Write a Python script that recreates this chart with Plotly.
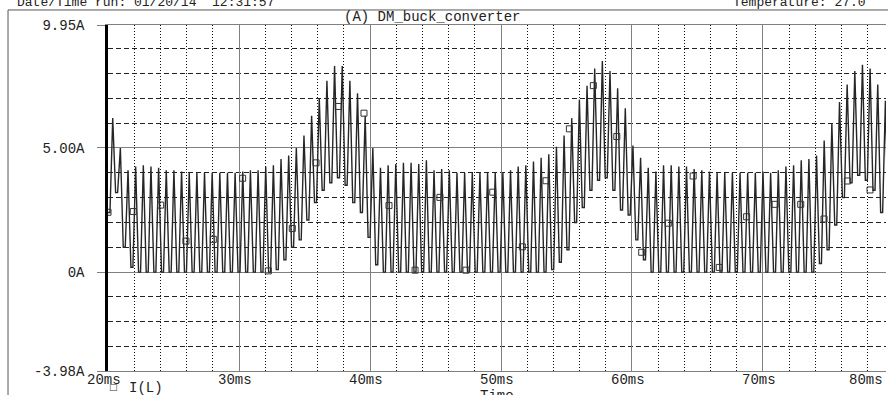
import plotly.graph_objects as go

# ---------------- data ----------------
first_peak_ms = 20.36        # time of first current peak
switch_period_ms = 0.584     # apparent switching period
start_current_A = 2.4        # I(L) at 20 ms

# peak current of each switching cycle (A)
peak_A = [
    6.2, 5.0, 4.1, 4.25, 4.3, 4.25, 4.2, 4.1, 4.1, 4.05,
    4.0, 4.0, 4.0, 4.0, 4.0, 4.0, 4.0, 4.05, 4.1, 4.1,
    4.25, 4.3, 4.55, 4.7, 5.0, 5.5, 6.3, 7.0, 7.7, 8.3,
    8.3, 7.7, 7.2, 6.3, 5.0, 4.2, 4.3, 4.35, 4.4, 4.4,
    4.35, 4.5, 4.1, 4.15, 4.1, 4.0, 4.0, 4.0, 4.0, 4.0,
    4.0, 4.0, 4.1, 4.25, 4.3, 4.45, 4.6, 4.75, 5.05, 5.5,
    6.2, 6.95, 7.5, 8.2, 8.5, 8.1, 7.4, 6.6, 5.1, 4.6,
    4.2, 4.05, 4.3, 4.3, 4.25, 4.25, 4.15, 4.1, 4.05, 4.0,
    4.0, 4.0, 4.0, 4.0, 4.0, 4.05, 4.0, 4.1, 4.25, 4.3,
    4.5, 4.55, 4.7, 5.3, 6.0, 6.85, 7.55, 8.1, 8.35, 8.2,
    7.55, 6.9, 6.0,
]

# valley current after each peak (A)
valley_A = [
    3.2, 1.0, 0.2, 0, 0, 0, 0, 0, 0, 0,
    0, 0, 0, 0, 0, 0, 0, 0, 0, 0,
    0, 0.1, 0.5, 1.0, 1.3, 2.1, 2.8, 3.3, 3.6, 3.8,
    3.5, 2.8, 2.4, 1.4, 0.3, 0, 0, 0, 0, 0,
    0, 0, 0, 0, 0, 0, 0, 0, 0, 0,
    0, 0, 0, 0, 0, 0, 0, 0.1, 0.4, 0.9,
    2.0, 2.6, 3.3, 3.7, 3.8, 3.3, 2.5, 2.3, 1.3, 0.5,
    0, 0, 0, 0, 0, 0, 0, 0, 0, 0,
    0, 0, 0, 0, 0, 0, 0, 0, 0, 0,
    0, 0, 0.35, 0.9, 1.9, 3.0, 3.6, 3.9, 3.7, 3.3,
    2.4, 1.6, 1.0,
]

# PSpice trace-marker squares
marker_time_ms = [20.0, 21.93, 24.02, 25.95, 28.04, 30.28, 32.24, 34.07, 35.88, 37.58,
                  39.54, 41.45, 43.44, 45.34, 47.33, 49.37, 51.63, 53.44, 55.22, 57.05,
                  58.84, 60.74, 62.77, 64.67, 66.66, 68.75, 70.92, 72.88, 74.66, 76.44,
                  78.17]
marker_A = [2.41, 2.44, 2.70, 1.25, 1.32, 3.78, 0.05, 1.76, 4.40, 6.67,
            6.40, 2.68, 0.08, 3.01, 0.08, 3.22, 1.02, 3.68, 5.77, 7.51,
            5.46, 0.80, 1.97, 3.87, 0.19, 2.23, 2.73, 2.73, 2.14, 3.67,
            3.31]

y_tick_vals = [-3.98, 0, 5, 9.95]
y_tick_text = ["-3.98A", "0A", "5.00A", "9.95A"]
x_tick_vals = [20, 30, 40, 50, 60, 70]
x_tick_text = ["20ms", "30ms", "40ms", "50ms", "60ms", "70ms"]
last_tick_text = "80ms"
x_range = [20, 79.39]
y_range = [-3.98, 9.95]

title_text = "(A) DM_buck_converter"
header_left = "Date/Time run: 01/20/14  12:31:57"
header_right = "Temperature: 27.0"
trace_name = "I(L)"
x_title = "Time"

# ---------------- build the waveform ----------------
rise = 0.36 * switch_period_ms
fall = 0.38 * switch_period_ms
t, y = [x_range[0]], [start_current_A]
prev = start_current_A
for i, (p, v) in enumerate(zip(peak_A, valley_A)):
    tp = first_peak_ms + i * switch_period_ms
    t += [tp - rise, tp, tp + fall]
    y += [prev, p, v]
    prev = v

FONT = "Liberation Mono, DejaVu Sans Mono, monospace"

fig = go.Figure()
fig.add_trace(go.Scatter(x=t, y=y, mode="lines",
                         line=dict(color="#262626", width=1.4),
                         hoverinfo="skip", name=trace_name))
fig.add_trace(go.Scatter(x=marker_time_ms, y=marker_A, mode="markers",
                         marker=dict(symbol="square-open", size=6,
                                     color="#333", line=dict(width=1)),
                         name=trace_name))

fig.update_layout(
    width=888, height=395,
    margin=dict(l=108, r=2, t=25, b=24),
    paper_bgcolor="white", plot_bgcolor="white",
    showlegend=False,
    font=dict(family=FONT, size=14, color="#222"),
)

fig.update_xaxes(
    range=x_range, tickvals=x_tick_vals, showticklabels=False,
    showgrid=True, gridcolor="#808080", gridwidth=1,
    minor=dict(dtick=2, tick0=20, showgrid=True, griddash="1px,2px",
               gridcolor="#111", gridwidth=1),
    showline=True, linecolor="#808080", linewidth=1, mirror=True,
    ticks="", zeroline=False,
)
fig.update_yaxes(
    range=y_range, tickvals=y_tick_vals, ticktext=y_tick_text,
    showgrid=True, gridcolor="#808080", gridwidth=1,
    minor=dict(dtick=1, tick0=0, showgrid=True, griddash="5px,3px",
               gridcolor="#222", gridwidth=1),
    showline=True, linecolor="black", linewidth=2.5, mirror=False,
    ticks="outside", ticklen=8, tickcolor="#808080", tickwidth=1,
    zeroline=False, ticklabelstandoff=10,
)

ann_font = dict(family=FONT, size=14, color="#222")
# x tick labels (PSpice style, slightly left of the gridline)
for xv, xt in zip(x_tick_vals, x_tick_text):
    fig.add_annotation(text=xt, xref="x", yref="paper", x=xv, y=0,
                       xanchor="center", yanchor="middle", xshift=-4, yshift=-9,
                       showarrow=False, font=ann_font)
fig.add_annotation(text=last_tick_text, xref="paper", yref="paper", x=1, y=0,
                   xanchor="right", yanchor="middle", xshift=-1, yshift=-9,
                   showarrow=False, font=ann_font)
fig.add_annotation(text=title_text, xref="paper", yref="paper", x=0.4165, y=1,
                   yanchor="middle", yshift=8, showarrow=False, font=ann_font)
fig.add_annotation(text="\u25a1", xref="paper", yref="paper", x=0, y=0,
                   xanchor="center", yanchor="middle", xshift=5, yshift=-16,
                   showarrow=False,
                   font=dict(family="DejaVu Sans", size=9, color="#333"))
fig.add_annotation(text=trace_name, xref="paper", yref="paper", x=0, y=0,
                   xanchor="left", yanchor="middle", xshift=19, yshift=-17,
                   showarrow=False, font=ann_font)
fig.add_annotation(text=x_title, xref="paper", yref="paper", x=0.5, y=0,
                   yanchor="middle", yshift=-25, showarrow=False, font=ann_font)
fig.add_annotation(text=header_left, xref="paper", yref="paper", x=0, y=1,
                   xanchor="left", yanchor="middle", xshift=-93, yshift=23,
                   showarrow=False, font=dict(family=FONT, size=13, color="#222"))
fig.add_annotation(text=header_right, xref="paper", yref="paper", x=1, y=1,
                   xanchor="right", yanchor="middle", xshift=-18, yshift=23,
                   showarrow=False, font=dict(family=FONT, size=13, color="#222"))

# outer page frame (top and left edges)
fig.add_shape(type="line", xref="paper", yref="paper", x0=-0.1285, x1=1.01,
              y0=1.0434, y1=1.0434, line=dict(color="#555", width=1))
fig.add_shape(type="line", xref="paper", yref="paper", x0=-0.1285, x1=-0.1285,
              y0=1.0434, y1=-0.08, line=dict(color="#555", width=1))

fig.write_html("out.html", config={"displayModeBar": False},
               post_script="document.body.style.margin='0';"
                           "document.body.style.overflow='hidden';")
